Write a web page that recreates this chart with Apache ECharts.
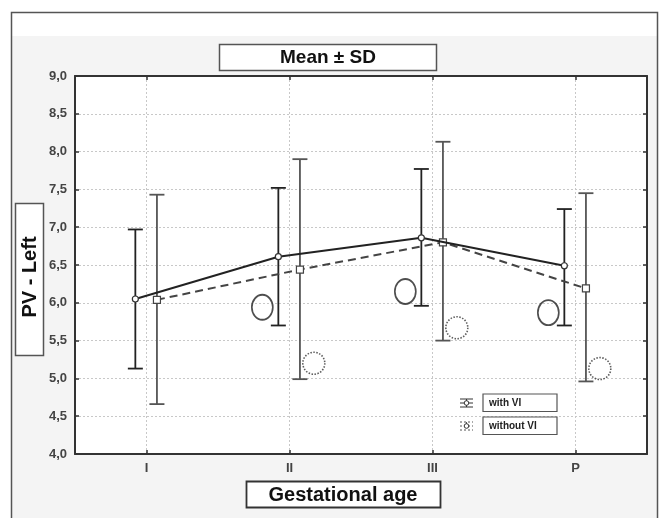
<!DOCTYPE html>
<html><head><meta charset="utf-8">
<script src="https://cdn.jsdelivr.net/npm/echarts@6/dist/echarts.min.js"></script>
<style>html,body{margin:0;padding:0;background:#fff}#c{width:664px;height:518px}</style>
</head><body><div id="c"></div>
<script>
// ---- data ----
const categories = ['I', 'II', 'III', 'P'];
const withVIMean = [6.05, 6.61, 6.86, 6.49];
const withVIUpper = [6.97, 7.52, 7.77, 7.24];
const withVILower = [5.13, 5.70, 5.96, 5.70];
const withoutVIMean = [6.04, 6.44, 6.80, 6.19];
const withoutVIUpper = [7.43, 7.90, 8.13, 7.45];
const withoutVILower = [4.66, 4.99, 5.50, 4.96];
const markCategories = ['II', 'III', 'P'];
const solidEllipseValues = [5.94, 6.15, 5.87];
const dottedCircleValues = [5.20, 5.67, 5.13];
const yMin = 4, yMax = 9, yStep = 0.5;
const titleText = 'Mean ± SD';
const yTitle = 'PV - Left';
const xTitle = 'Gestational age';
const legendNames = ['with VI', 'without VI'];

// ---- chart ----
const chart = echarts.init(document.getElementById('c'), null, {renderer: 'canvas'});
const FONT = 'Liberation Sans, Arial, sans-serif';
const OFF_WITH = -0.078, OFF_WITHOUT = 0.073, OFF_SOLID = -0.19, OFF_DOTTED = 0.17;

function pts(means, off) { return categories.map((c, i) => [i + 0.5 + off, means[i]]); }
function bars(lo, hi, off) { return categories.map((c, i) => [i + 0.5 + off, lo[i], hi[i]]); }
function marks(vals, off) { return markCategories.map((c, k) => [categories.indexOf(c) + 0.5 + off, vals[k]]); }

function errRender(color, width) {
  return function (params, api) {
    const x = api.value(0);
    const top = api.coord([x, api.value(2)]);
    const bot = api.coord([x, api.value(1)]);
    const hw = 7.5;
    const st = {stroke: color, lineWidth: width};
    return {type: 'group', children: [
      {type: 'line', shape: {x1: top[0], y1: top[1], x2: bot[0], y2: bot[1]}, style: st},
      {type: 'line', shape: {x1: top[0] - hw, y1: top[1], x2: top[0] + hw, y2: top[1]}, style: st},
      {type: 'line', shape: {x1: bot[0] - hw, y1: bot[1], x2: bot[0] + hw, y2: bot[1]}, style: st}
    ]};
  };
}

const gridLine = {show: true, lineStyle: {color: '#c8c8c8', width: 1, type: [2, 2]}};

function legendIcon(cy, dashed) {
  const x1 = 460, x2 = 473, cx = 466.5;
  const st = {stroke: dashed ? '#555' : '#333', lineWidth: 1, lineDash: dashed ? [2, 2] : null};
  return [
    {type: 'line', shape: {x1: x1, y1: cy - 4, x2: x2, y2: cy - 4}, style: st, z: 100},
    {type: 'line', shape: {x1: x1, y1: cy + 4, x2: x2, y2: cy + 4}, style: st, z: 100},
    {type: 'line', shape: {x1: x1, y1: cy, x2: x2, y2: cy}, style: st, z: 100},
    {type: 'line', shape: {x1: cx, y1: cy - 4, x2: cx, y2: cy + 4}, style: st, z: 100},
    {type: 'circle', shape: {cx: cx, cy: cy, r: 2.3}, style: {fill: '#fff', stroke: '#333', lineWidth: 1}, z: 101}
  ];
}

const option = {
  animation: false,
  backgroundColor: '#ffffff',
  grid: {left: 75, top: 76, width: 572, height: 378, show: true, backgroundColor: '#ffffff', borderWidth: 0},
  xAxis: [
    {type: 'category', data: categories, position: 'bottom', boundaryGap: true,
     axisLine: {show: true, lineStyle: {color: '#333', width: 2}},
     axisTick: {show: true, alignWithLabel: true, inside: true, length: 4, lineStyle: {color: '#333', width: 1.5}},
     axisLabel: {color: '#444', fontSize: 13, fontWeight: 'bold', fontFamily: FONT, margin: 8},
     splitLine: Object.assign({alignWithLabel: true}, gridLine)},
    {type: 'category', data: categories, position: 'top', boundaryGap: true,
     axisLine: {show: true, lineStyle: {color: '#333', width: 2}},
     axisTick: {show: true, alignWithLabel: true, inside: true, length: 4, lineStyle: {color: '#333', width: 1.5}},
     axisLabel: {show: false}, splitLine: {show: false}},
    {type: 'value', min: 0, max: categories.length, show: false, splitLine: {show: false}}
  ],
  yAxis: [
    {type: 'value', min: yMin, max: yMax, interval: yStep, position: 'left',
     axisLine: {show: true, lineStyle: {color: '#333', width: 2}},
     axisTick: {show: true, inside: true, length: 4, lineStyle: {color: '#333', width: 1.5}},
     axisLabel: {color: '#444', fontSize: 13, fontWeight: 'bold', fontFamily: FONT, margin: 8,
                 formatter: v => v.toFixed(1).replace('.', ',')},
     splitLine: gridLine},
    {type: 'value', min: yMin, max: yMax, interval: yStep, position: 'right',
     axisLine: {show: true, lineStyle: {color: '#333', width: 2}},
     axisTick: {show: true, inside: true, length: 4, lineStyle: {color: '#333', width: 1.5}},
     axisLabel: {show: false}, splitLine: {show: false}}
  ],
  series: [
    {type: 'custom', name: 'with VI err', xAxisIndex: 2, yAxisIndex: 0, z: 3,
     renderItem: errRender('#222', 1.8), data: bars(withVILower, withVIUpper, OFF_WITH)},
    {type: 'custom', name: 'without VI err', xAxisIndex: 2, yAxisIndex: 0, z: 3,
     renderItem: errRender('#555', 1.8), data: bars(withoutVILower, withoutVIUpper, OFF_WITHOUT)},
    {type: 'line', name: legendNames[1], xAxisIndex: 2, yAxisIndex: 0, z: 4,
     data: pts(withoutVIMean, OFF_WITHOUT),
     lineStyle: {color: '#444', width: 2, type: [8, 5]},
     symbol: 'rect', symbolSize: 7, itemStyle: {color: '#fff', borderColor: '#444', borderWidth: 1.2}},
    {type: 'line', name: legendNames[0], xAxisIndex: 2, yAxisIndex: 0, z: 5,
     data: pts(withVIMean, OFF_WITH),
     lineStyle: {color: '#222', width: 2},
     symbol: 'circle', symbolSize: 6, itemStyle: {color: '#fff', borderColor: '#333', borderWidth: 1.2}},
    {type: 'scatter', name: 'solid marks', xAxisIndex: 2, yAxisIndex: 0, z: 4,
     data: marks(solidEllipseValues, OFF_SOLID),
     symbol: 'circle', symbolSize: [21, 25],
     itemStyle: {color: 'rgba(0,0,0,0)', borderColor: '#222', borderWidth: 1.8}},
    {type: 'scatter', name: 'dotted marks', xAxisIndex: 2, yAxisIndex: 0, z: 4,
     data: marks(dottedCircleValues, OFF_DOTTED),
     symbol: 'circle', symbolSize: 22,
     itemStyle: {color: 'rgba(0,0,0,0)', borderColor: '#333', borderWidth: 1.6, borderType: [1.5, 1.5]}}
  ],
  graphic: [
    {type: 'rect', shape: {x: 12, y: 36, width: 646, height: 490}, style: {fill: '#f4f4f4'}, z: -10, silent: true},
    {type: 'rect', shape: {x: 11.5, y: 12.5, width: 646, height: 520}, style: {fill: null, stroke: '#555', lineWidth: 1.5}, z: 100, silent: true},
    {type: 'rect', shape: {x: 219.5, y: 44.5, width: 217, height: 26}, style: {fill: '#fff', stroke: '#555', lineWidth: 1.5}, z: 100},
    {type: 'text', x: 328, y: 58, style: {text: titleText, font: 'bold 19px ' + FONT, fill: '#111', align: 'center', verticalAlign: 'middle'}, z: 101},
    {type: 'rect', shape: {x: 15.5, y: 203.5, width: 28, height: 152}, style: {fill: '#fff', stroke: '#555', lineWidth: 1.5}, z: 100},
    {type: 'text', x: 30, y: 277, rotation: Math.PI / 2, style: {text: yTitle, font: 'bold 20px ' + FONT, fill: '#111', align: 'center', verticalAlign: 'middle'}, z: 101},
    {type: 'rect', shape: {x: 246.5, y: 481.5, width: 194, height: 26}, style: {fill: '#fff', stroke: '#333', lineWidth: 1.8}, z: 100},
    {type: 'text', x: 343, y: 495, style: {text: xTitle, font: 'bold 20px ' + FONT, fill: '#111', align: 'center', verticalAlign: 'middle'}, z: 101},
    {type: 'rect', shape: {x: 483, y: 394, width: 74, height: 17.5}, style: {fill: '#fff', stroke: '#555', lineWidth: 1.2}, z: 100},
    {type: 'text', x: 489, y: 403, style: {text: legendNames[0], font: 'bold 10px ' + FONT, fill: '#222', align: 'left', verticalAlign: 'middle'}, z: 101},
    {type: 'rect', shape: {x: 483, y: 417, width: 74, height: 17.5}, style: {fill: '#fff', stroke: '#555', lineWidth: 1.2}, z: 100},
    {type: 'text', x: 489, y: 426, style: {text: legendNames[1], font: 'bold 10px ' + FONT, fill: '#222', align: 'left', verticalAlign: 'middle'}, z: 101}
  ].concat(legendIcon(403, false), legendIcon(426, true))
};
chart.setOption(option);
</script>
</body></html>
